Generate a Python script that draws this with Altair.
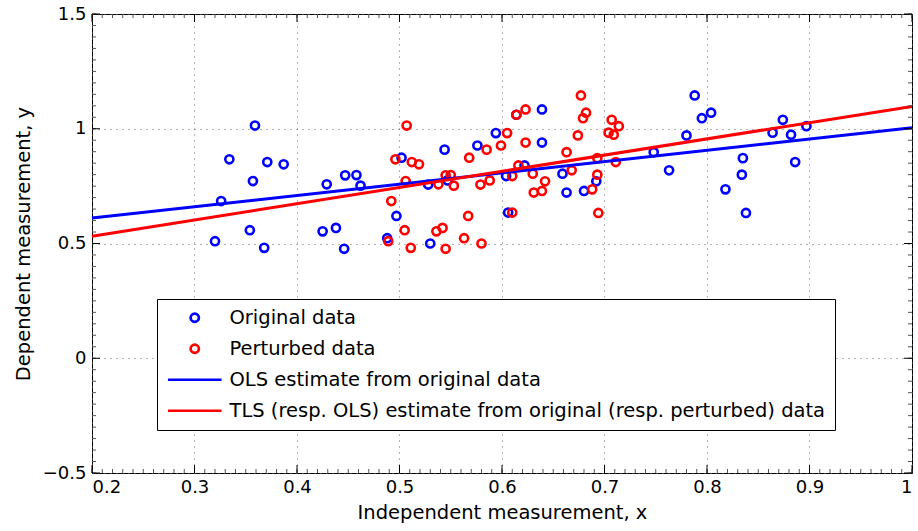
import altair as alt
import pandas as pd

# ---------------- data ----------------
orig_x = [0.320, 0.326, 0.334, 0.354, 0.357, 0.359, 0.368, 0.371, 0.387, 0.425,
          0.429, 0.438, 0.446, 0.447, 0.458, 0.462, 0.488, 0.497, 0.502, 0.528,
          0.530, 0.544, 0.547, 0.576, 0.594, 0.604, 0.606, 0.614, 0.622, 0.639,
          0.639, 0.659, 0.663, 0.680, 0.692, 0.748, 0.763, 0.780, 0.788, 0.795,
          0.804, 0.818, 0.834, 0.835, 0.838, 0.864, 0.874, 0.882, 0.886, 0.897]
orig_y = [0.510, 0.685, 0.867, 0.558, 0.772, 1.014, 0.481, 0.855, 0.845, 0.553,
          0.758, 0.568, 0.477, 0.797, 0.798, 0.752, 0.523, 0.620, 0.874, 0.757,
          0.500, 0.909, 0.775, 0.927, 0.981, 0.794, 0.635, 1.061, 0.840, 1.084,
          0.940, 0.804, 0.722, 0.729, 0.771, 0.898, 0.819, 0.971, 1.145, 1.046,
          1.070, 0.736, 0.800, 0.872, 0.633, 0.983, 1.039, 0.974, 0.855, 1.011]
pert_x = [0.489, 0.492, 0.496, 0.505, 0.506, 0.507, 0.511, 0.512, 0.519, 0.536,
          0.538, 0.542, 0.545, 0.545, 0.550, 0.553, 0.563, 0.567, 0.568, 0.579,
          0.580, 0.585, 0.588, 0.599, 0.605, 0.610, 0.610, 0.614, 0.616, 0.623,
          0.623, 0.630, 0.631, 0.639, 0.642, 0.663, 0.668, 0.674, 0.677, 0.679,
          0.682, 0.688, 0.693, 0.693, 0.694, 0.704, 0.707, 0.709, 0.711, 0.714]
pert_y = [0.510, 0.685, 0.867, 0.558, 0.772, 1.014, 0.481, 0.855, 0.845, 0.553,
          0.758, 0.568, 0.477, 0.797, 0.798, 0.752, 0.523, 0.620, 0.874, 0.757,
          0.500, 0.909, 0.775, 0.927, 0.981, 0.794, 0.635, 1.061, 0.840, 1.084,
          0.940, 0.804, 0.722, 0.729, 0.771, 0.898, 0.819, 0.971, 1.145, 1.046,
          1.070, 0.736, 0.800, 0.872, 0.633, 0.983, 1.039, 0.974, 0.855, 1.011]

ols_x = [0.2, 1.0]
ols_y = [0.611, 1.004]
tls_x = [0.2, 1.0]
tls_y = [0.532, 1.097]

series_names = ["Original data", "Perturbed data",
                "OLS estimate from original data",
                "TLS (resp. OLS) estimate from original (resp. perturbed) data"]
series_colors = ["#0000ff", "#ff0000", "#0000ff", "#ff0000"]
series_shapes = ["circle", "circle", "M-6.5,0H6.5", "M-6.5,0H6.5"]

x_ticks = [0.2, 0.3, 0.4, 0.5, 0.6, 0.7, 0.8, 0.9, 1.0]
y_ticks = [-0.5, 0.0, 0.5, 1.0, 1.5]
x_minor = [round(0.2 + 0.01 * i, 2) for i in range(81)]
y_minor = [round(-0.5 + 0.05 * i, 2) for i in range(41)]

# ---------------- tables ----------------
pts = pd.concat([
    pd.DataFrame({"x": orig_x, "y": orig_y, "series": series_names[0]}),
    pd.DataFrame({"x": pert_x, "y": pert_y, "series": series_names[1]}),
], ignore_index=True)
lines = pd.concat([
    pd.DataFrame({"x": ols_x, "y": ols_y, "series": series_names[2]}),
    pd.DataFrame({"x": tls_x, "y": tls_y, "series": series_names[3]}),
], ignore_index=True)

W, H = 820, 459
FONT = "DejaVu Sans"

xscale = alt.Scale(domain=[0.2, 1.0], nice=False, zero=False)
yscale = alt.Scale(domain=[-0.5, 1.5], nice=False, zero=False)
cscale = alt.Scale(domain=series_names, range=series_colors)
sscale = alt.Scale(domain=series_names, range=series_shapes)

axis_common = dict(grid=True, gridColor="#666666", gridDash=[1, 5], gridWidth=1,
                   ticks=False, domain=False, labelFont=FONT, labelFontSize=18,
                   labelColor="black", titleFont=FONT, titleFontSize=19.5,
                   titleFontWeight="normal", titleColor="black")
xaxis = alt.Axis(values=x_ticks, format="~g", labelPadding=5, titlePadding=7,
                 title="Independent measurement, x", **axis_common)
yaxis = alt.Axis(values=y_ticks, format="~g", labelPadding=6, titlePadding=9,
                 title="Dependent measurement, y", **axis_common)


def X(field):
    return alt.X(field, scale=xscale, axis=xaxis)


def Y(field):
    return alt.Y(field, scale=yscale, axis=yaxis)


legend = alt.Legend(title=None, orient="none", legendX=65, legendY=285,
                    fillColor="white", strokeColor="black",
                    padding=9, rowPadding=10, labelFont=FONT, labelFontSize=19.5,
                    labelColor="black", labelLimit=900, labelOffset=25,
                    symbolOffset=19, symbolSize=68, symbolStrokeWidth=2.7,
                    symbolFillColor="transparent", cornerRadius=0)

points = alt.Chart(pts).mark_point(filled=False, size=66, strokeWidth=2.6,
                                    opacity=1).encode(
    x=X("x:Q"),
    y=Y("y:Q"),
    color=alt.Color("series:N", scale=cscale, legend=legend),
    shape=alt.Shape("series:N", scale=sscale, legend=legend),
)

fits = alt.Chart(lines).mark_line(strokeWidth=3).encode(
    x=X("x:Q"),
    y=Y("y:Q"),
    color=alt.Color("series:N", scale=cscale, legend=None),
)

xmaj = pd.DataFrame({"x": x_ticks})
ymaj = pd.DataFrame({"y": y_ticks})
xmin = pd.DataFrame({"x": x_minor})
ymin = pd.DataFrame({"y": y_minor})


def xticks(df, length, color):
    bottom = alt.Chart(df).mark_rule(color=color, strokeWidth=1).encode(
        x=X("x:Q"), y=alt.value(H), y2=alt.value(H - length))
    top = alt.Chart(df).mark_rule(color=color, strokeWidth=1).encode(
        x=X("x:Q"), y=alt.value(0), y2=alt.value(length))
    return [bottom, top]


def yticks(df, length, color):
    left = alt.Chart(df).mark_rule(color=color, strokeWidth=1).encode(
        y=Y("y:Q"), x=alt.value(0), x2=alt.value(length))
    right = alt.Chart(df).mark_rule(color=color, strokeWidth=1).encode(
        y=Y("y:Q"), x=alt.value(W), x2=alt.value(W - length))
    return [left, right]


tick_layers = (xticks(xmin, 4, "#555555") + yticks(ymin, 4, "#555555")
               + xticks(xmaj, 8, "black") + yticks(ymaj, 8, "black"))

chart = alt.layer(points, fits, *tick_layers).properties(
    width=W, height=H,
    autosize=alt.AutoSizeParams(type="none"),
    padding={"left": 92, "top": 14, "right": 6, "bottom": 58},
    background="white",
).configure_view(stroke="black", strokeWidth=1).configure_legend(strokeWidth=1)

chart.save("out.html", embed_options={"renderer": "svg", "actions": False})
